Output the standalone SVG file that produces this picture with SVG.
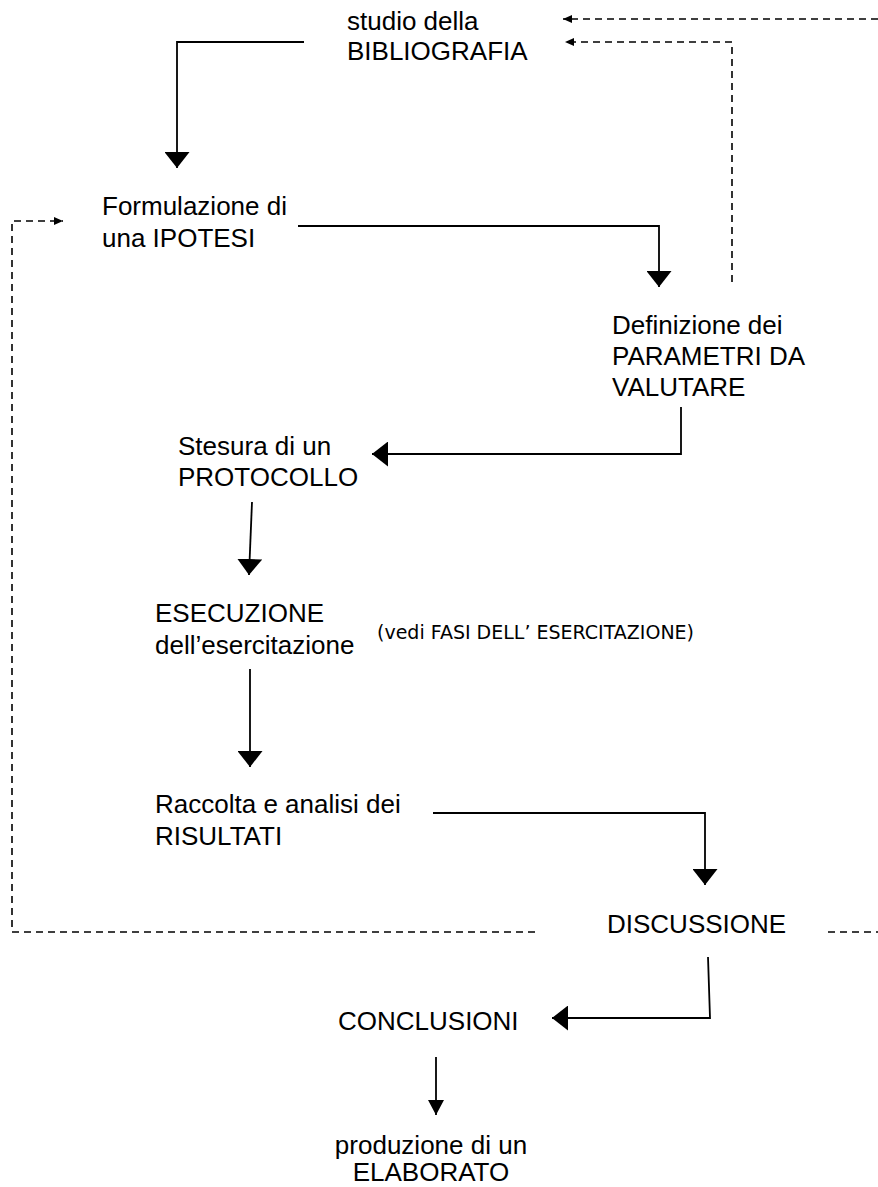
<svg xmlns="http://www.w3.org/2000/svg" width="878" height="1187" viewBox="0 0 878 1187">
<style>
  .t { font-family: "Liberation Sans", Arial, sans-serif; font-size: 26px; fill: #000; }
  .s { font-family: "DejaVu Sans", Tahoma, sans-serif; font-size: 19px; fill: #000; }
  .c { fill: none; stroke: #000; stroke-width: 1.8; }
  .d { fill: none; stroke: #000; stroke-width: 1.6; stroke-dasharray: 7 5; }
</style>
<defs>
  <marker id="big" markerWidth="16" markerHeight="25" refX="16" refY="12.5" orient="auto" markerUnits="userSpaceOnUse">
    <path d="M0,0 L16,12.5 L0,25 z" fill="#000"/>
  </marker>
  <marker id="mid" markerWidth="15" markerHeight="16" refX="15" refY="8" orient="auto" markerUnits="userSpaceOnUse">
    <path d="M0,0 L15,8 L0,16 z" fill="#000"/>
  </marker>
  <marker id="small" markerWidth="9" markerHeight="8" refX="9" refY="4" orient="auto" markerUnits="userSpaceOnUse">
    <path d="M0,0 L9,4 L0,8 z" fill="#000"/>
  </marker>
</defs>
<rect width="878" height="1187" fill="#fff"/>

<g id="connectors">
  <path class="c" d="M304,42 H177 V168" marker-end="url(#big)"/>
  <path class="c" d="M298,226 H659 V287" marker-end="url(#big)"/>
  <path class="c" d="M681,407 V454 H372" marker-end="url(#big)"/>
  <path class="c" d="M252,502 L249,575" marker-end="url(#big)"/>
  <path class="c" d="M250,669 V767" marker-end="url(#big)"/>
  <path class="c" d="M433,813 H705 V885" marker-end="url(#big)"/>
  <path class="c" d="M708,957 L710,1018 H552" marker-end="url(#big)"/>
  <path class="c" d="M436,1057 V1115" marker-end="url(#mid)"/>
  <path class="d" d="M878,19 H563" marker-end="url(#small)"/>
  <path class="d" d="M732,282 V42 H565" marker-end="url(#small)"/>
  <path class="d" d="M535,932 H12 V221 H63" marker-end="url(#small)"/>
  <path class="d" d="M828,932 H878"/>
</g>

<g id="bibliografia">
  <text class="t" x="347" y="30">studio della</text>
  <text class="t" x="347" y="60">BIBLIOGRAFIA</text>
</g>
<g id="ipotesi">
  <text class="t" x="102" y="215">Formulazione di</text>
  <text class="t" x="102" y="247">una IPOTESI</text>
</g>
<g id="parametri">
  <text class="t" x="612" y="334">Definizione dei</text>
  <text class="t" x="612" y="365">PARAMETRI DA</text>
  <text class="t" x="612" y="396">VALUTARE</text>
</g>
<g id="protocollo">
  <text class="t" x="178" y="455">Stesura di un</text>
  <text class="t" x="178" y="486">PROTOCOLLO</text>
</g>
<g id="esecuzione">
  <text class="t" x="155" y="622">ESECUZIONE</text>
  <text class="t" x="155" y="654">dell’esercitazione</text>
  <text class="s" x="377" y="639">(vedi FASI DELL’ ESERCITAZIONE)</text>
</g>
<g id="risultati">
  <text class="t" x="155" y="813">Raccolta e analisi dei</text>
  <text class="t" x="155" y="845">RISULTATI</text>
</g>
<g id="discussione">
  <text class="t" x="607" y="933">DISCUSSIONE</text>
</g>
<g id="conclusioni">
  <text class="t" x="338" y="1030">CONCLUSIONI</text>
</g>
<g id="elaborato">
  <text class="t" x="431" y="1154" text-anchor="middle">produzione di un</text>
  <text class="t" x="431" y="1181" text-anchor="middle">ELABORATO</text>
</g>
</svg>
